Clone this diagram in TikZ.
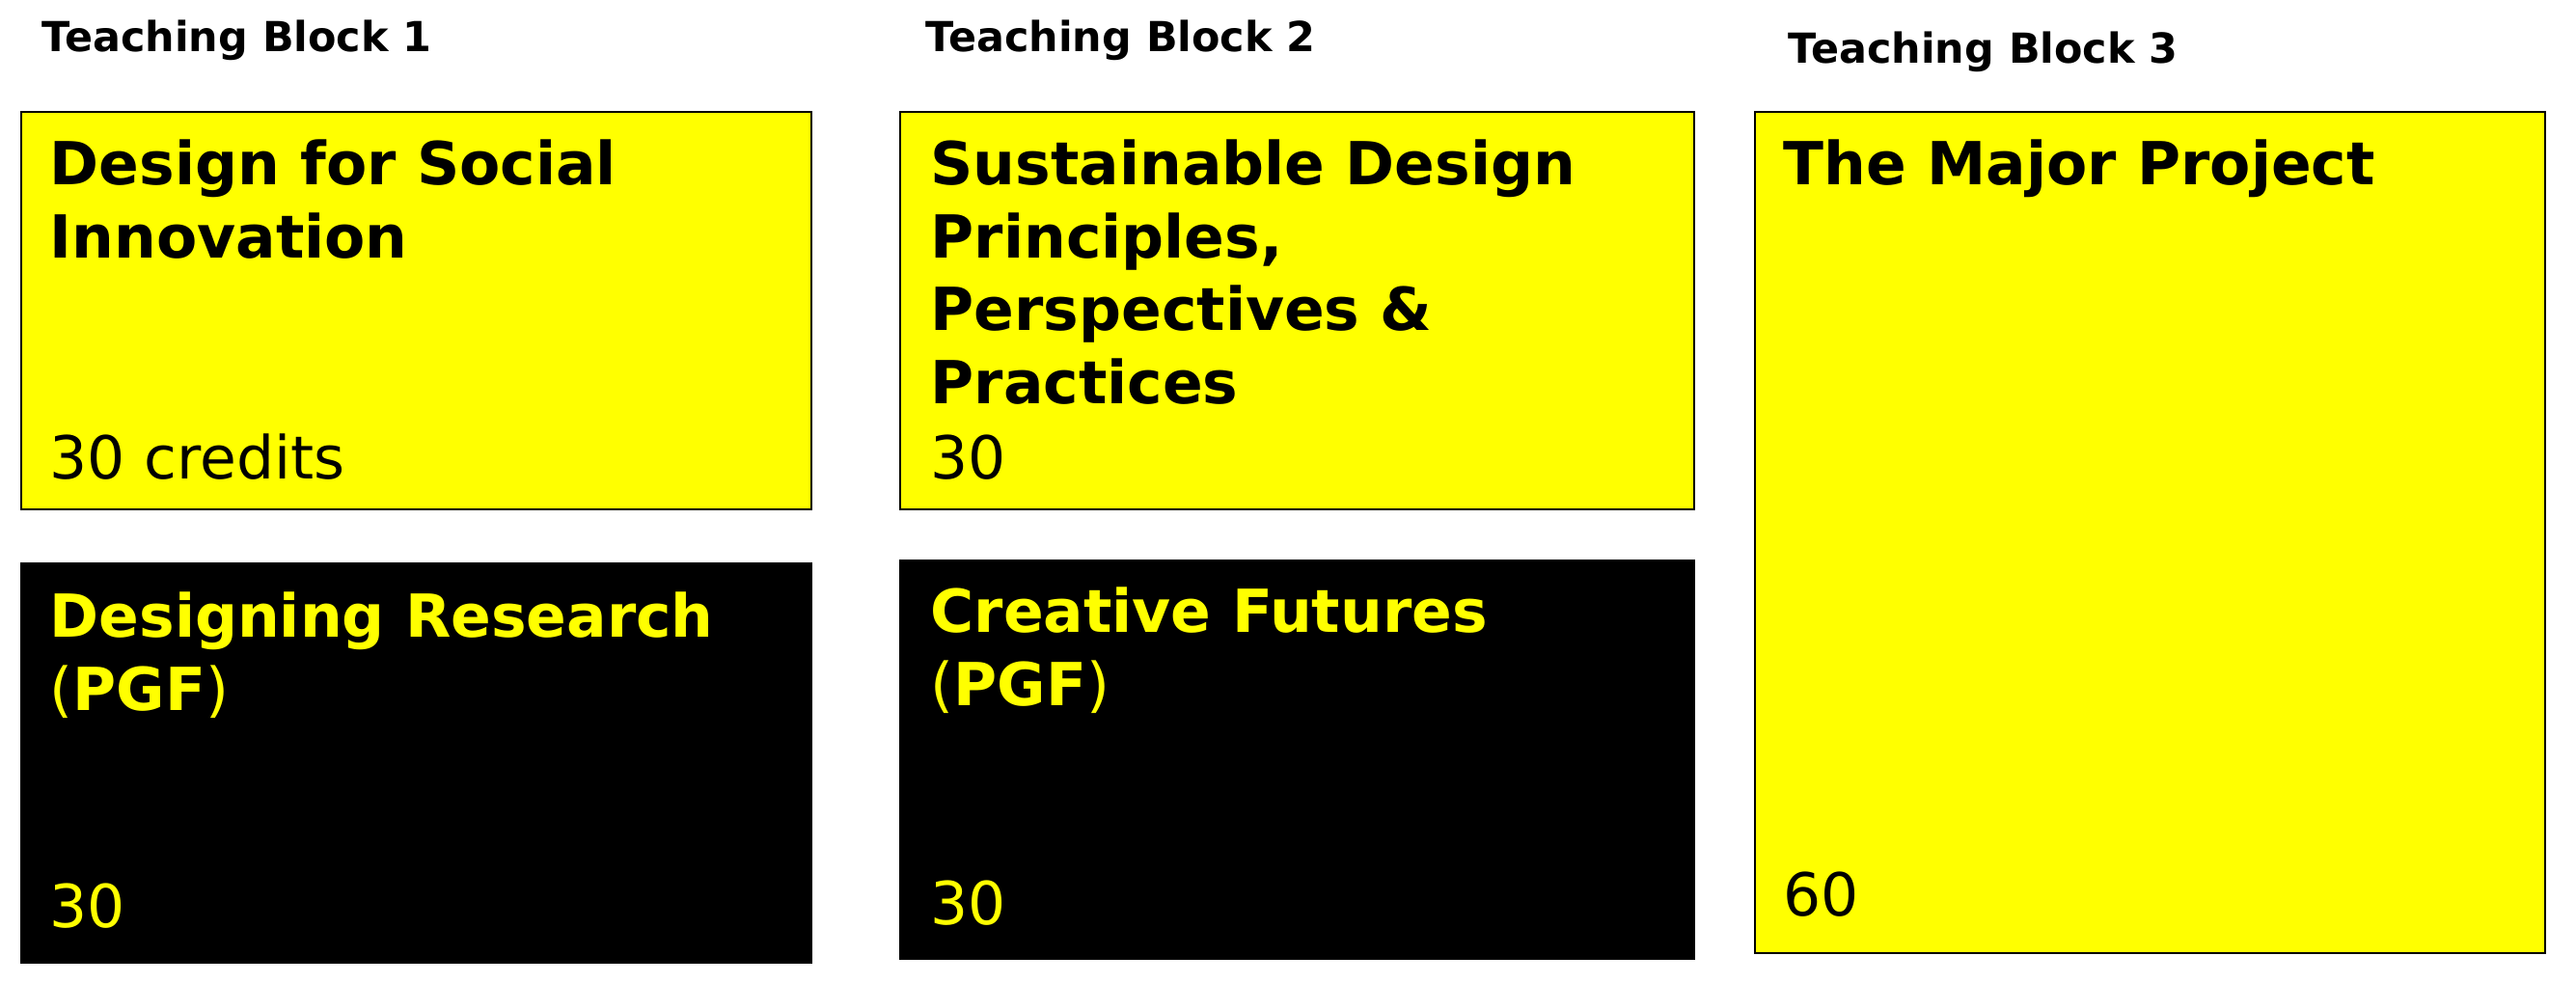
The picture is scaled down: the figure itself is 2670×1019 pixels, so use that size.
\documentclass[tikz,border=0pt]{standalone}
\usepackage{fontspec}
\setmainfont{DejaVu Sans}
\definecolor{ylw}{RGB}{255,255,0}
\begin{document}
\begin{tikzpicture}[x=0.1mm,y=-0.1mm,
  box/.style={draw=black, line width=0.6pt, anchor=north west, inner sep=0pt, outer sep=0pt},
  ybox/.style={box, fill=ylw},
  kbox/.style={box, fill=black},
  hd/.style={anchor=base west, inner sep=0pt, font=\fontsize{12.2}{14}\selectfont\bfseries},
  ttl/.style={anchor=base west, inner sep=0pt, align=left, font=\fontsize{17.5}{21.5}\selectfont\bfseries},
  cr/.style={anchor=base west, inner sep=0pt, font=\fontsize{17.5}{21.5}\selectfont}]
\useasboundingbox[fill=white] (0,0) rectangle (2670,1019);
% boxes
\node[ybox, minimum width=81.9mm, minimum height=41.2mm] (b1) at (22,116) {};
\node[kbox, minimum width=81.9mm, minimum height=41.4mm] (b2) at (22,584) {};
\node[ybox, minimum width=82.3mm, minimum height=41.2mm] (b3) at (933,116) {};
\node[kbox, minimum width=82.3mm, minimum height=41.3mm] (b4) at (933,581) {};
\node[ybox, minimum width=81.9mm, minimum height=87.2mm] (b5) at (1819,116) {};
% headings
\node[hd] (h1) at (43,54) {Teaching Block 1};
\node[hd] (h2) at (959,54) {Teaching Block 2};
\node[hd] (h3) at (1853,66) {Teaching Block 3};
% titles (base anchor = baseline of the last line)
\node[ttl] (t1) at (51,267.5) {Design for Social\\Innovation};
\node[cr] (c1) at (51,497) {30 credits};
\node[ttl, text=ylw] (t2) at (51,736.5) {Designing Research\\{\mdseries(}PGF{\mdseries)}};
\node[cr, text=ylw] (c2) at (51,962) {30};
\node[ttl] (t3) at (964,418.5) {Sustainable Design\\Principles,\\Perspectives \&\\Practices};
\node[cr] (c3) at (964,497) {30};
\node[ttl, text=ylw] (t4) at (964,731.5) {Creative Futures\\{\mdseries(}PGF{\mdseries)}};
\node[cr, text=ylw] (c4) at (964,959) {30};
\node[ttl] (t5) at (1848,192) {The Major Project};
\node[cr] (c5) at (1848,950) {60};
\end{tikzpicture}
\end{document}
